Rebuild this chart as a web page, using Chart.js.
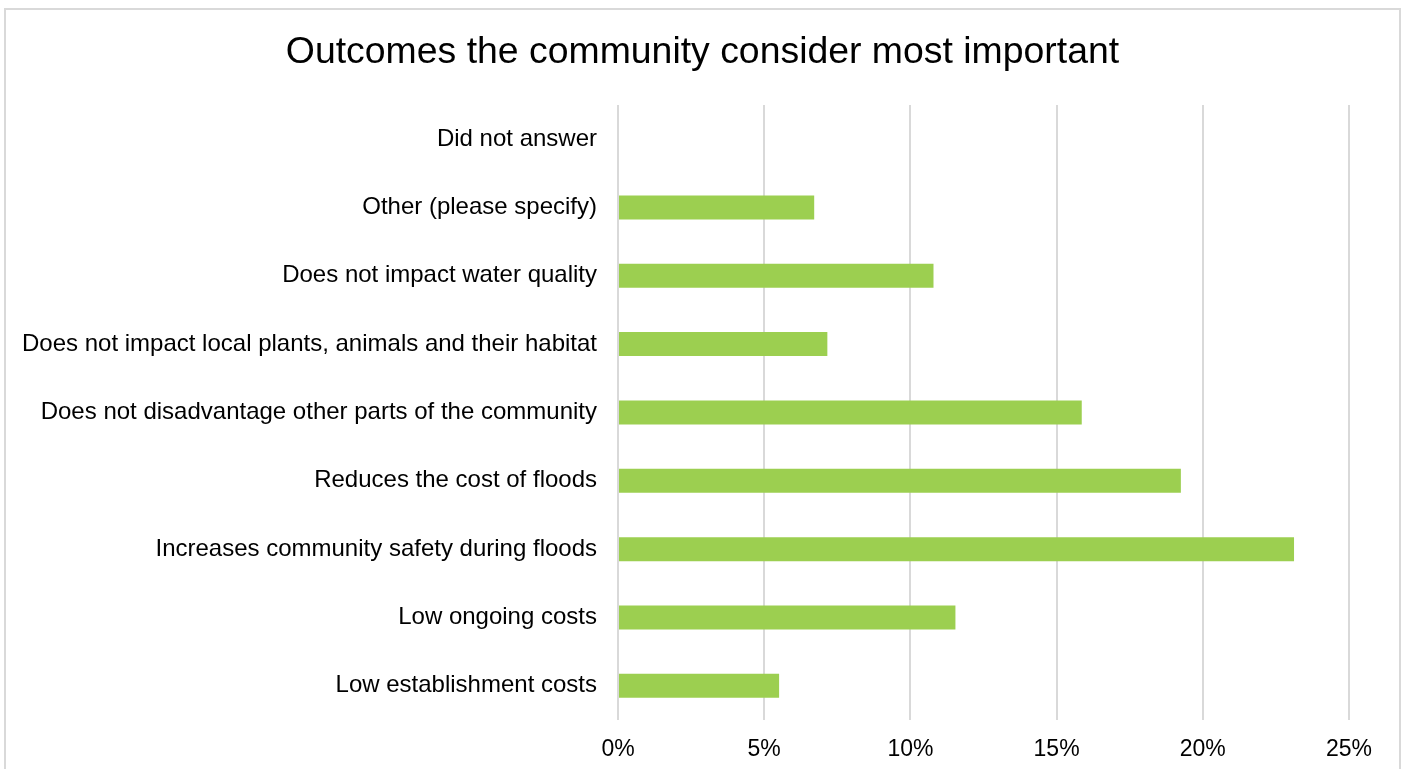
<!DOCTYPE html>
<html>
<head>
<meta charset="utf-8">
<script src="https://cdn.jsdelivr.net/npm/chart.js@4.4.1/dist/chart.umd.min.js"></script>
<style>
  html, body { margin: 0; padding: 0; background: #fff; overflow: hidden; }
  #wrap { position: absolute; left: 0; top: 0; width: 1405px; height: 769px; }
  #frame { position: absolute; left: 4px; top: 8px; width: 1397px; height: 800px; border: 2px solid #d9d9d9; box-sizing: border-box; }
  #c { position: absolute; left: 0; top: 0; }
</style>
</head>
<body>
<div id="wrap">
  <div id="frame"></div>
  <canvas id="c" width="1405" height="769"></canvas>
</div>
<script>
const chartTitle = "Outcomes the community consider most important";
const categories = [
  "Did not answer",
  "Other (please specify)",
  "Does not impact water quality",
  "Does not impact local plants, animals and their habitat",
  "Does not disadvantage other parts of the community",
  "Reduces the cost of floods",
  "Increases community safety during floods",
  "Low ongoing costs",
  "Low establishment costs"
];
const values = [0, 6.71, 10.79, 7.16, 15.86, 19.25, 23.12, 11.54, 5.51];
const xTicks = [0, 5, 10, 15, 20, 25];

const FONT = "'Liberation Sans', Arial, sans-serif";

new Chart(document.getElementById('c'), {
  type: 'bar',
  data: {
    labels: categories,
    datasets: [{
      data: values,
      backgroundColor: '#9ccf50',
      borderWidth: 0,
      categoryPercentage: 1,
      barPercentage: 0.351
    }]
  },
  options: {
    indexAxis: 'y',
    responsive: false,
    animation: false,
    devicePixelRatio: 1,
    layout: { padding: { left: 0, right: 0, top: 0, bottom: 0 } },
    plugins: {
      legend: { display: false },
      tooltip: { enabled: false },
      title: {
        display: true,
        text: chartTitle,
        color: '#000',
        font: { family: FONT, size: 37.4, weight: 'normal' },
        padding: { top: 30, bottom: 30 }
      }
    },
    scales: {
      x: {
        min: 0,
        max: 25,
        afterBuildTicks: (s) => { s.ticks = xTicks.map(v => ({ value: v })); },
        afterFit: (s) => { s.height = 49; },
        grid: { color: '#d9d9d9', lineWidth: 2, drawTicks: false },
        border: { display: false },
        ticks: {
          color: '#000',
          font: { family: FONT, size: 23 },
          padding: 16,
          callback: (v) => v + '%'
        }
      },
      y: {
        afterFit: (s) => { s.width = 618; },
        grid: { display: false, drawTicks: false },
        border: { display: false },
        ticks: {
          color: '#000',
          font: { family: FONT, size: 24 },
          padding: 21
        }
      },
      spacer: {
        type: 'linear',
        axis: 'y',
        position: 'right',
        display: true,
        afterFit: (s) => { s.width = 56; },
        grid: { display: false, drawTicks: false },
        border: { display: false },
        ticks: { display: false }
      }
    }
  }
});
</script>
</body>
</html>
